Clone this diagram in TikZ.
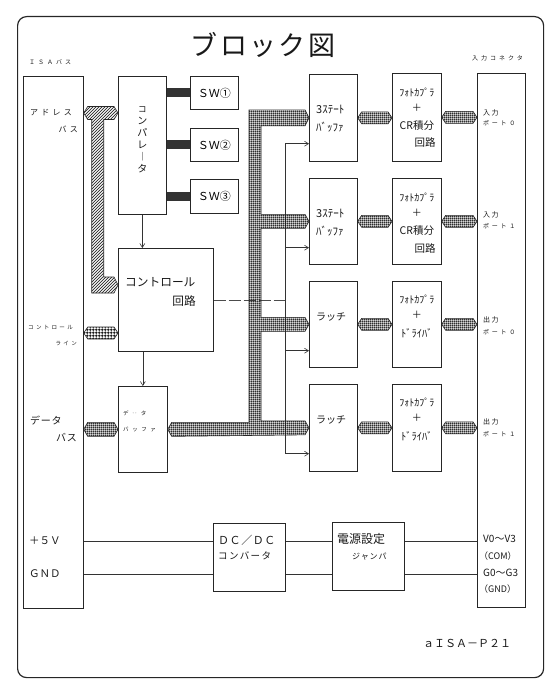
\documentclass[tikz,border=0pt]{standalone}
\usepackage{fontspec}
\setmainfont{Noto Sans CJK JP}
\usetikzlibrary{calc,patterns,arrows.meta}
\pgfdeclarepatternformonly{finegrid}{\pgfqpoint{0pt}{0pt}}{\pgfqpoint{2.2pt}{2.2pt}}{\pgfqpoint{2.2pt}{2.2pt}}{%
  \pgfsetlinewidth{0.9pt}%
  \pgfpathmoveto{\pgfqpoint{0pt}{1.1pt}}\pgfpathlineto{\pgfqpoint{2.2pt}{1.1pt}}%
  \pgfpathmoveto{\pgfqpoint{1.1pt}{0pt}}\pgfpathlineto{\pgfqpoint{1.1pt}{2.2pt}}%
  \pgfusepath{stroke}}
\pgfdeclarepatternformonly{coarsegrid}{\pgfqpoint{0pt}{0pt}}{\pgfqpoint{3.2pt}{3.2pt}}{\pgfqpoint{3.2pt}{3.2pt}}{%
  \pgfsetlinewidth{1pt}%
  \pgfpathmoveto{\pgfqpoint{0pt}{1.6pt}}\pgfpathlineto{\pgfqpoint{3.2pt}{1.6pt}}%
  \pgfpathmoveto{\pgfqpoint{1.6pt}{0pt}}\pgfpathlineto{\pgfqpoint{1.6pt}{3.2pt}}%
  \pgfusepath{stroke}}
\pgfdeclarepatternformonly{hatch}{\pgfqpoint{-1pt}{-1pt}}{\pgfqpoint{4pt}{4pt}}{\pgfqpoint{3pt}{3pt}}{%
  \pgfsetlinewidth{0.7pt}%
  \pgfpathmoveto{\pgfqpoint{0pt}{0pt}}\pgfpathlineto{\pgfqpoint{3.1pt}{3.1pt}}%
  \pgfusepath{stroke}}
\newcommand\fsz[1]{\fontsize{#1}{#1}\selectfont}
\newcommand\fls[2]{\fontsize{#1}{#1}\selectfont\addfontfeature{LetterSpace=#2}}
\newcommand\hbus[4]{%
  \draw[#1] let \p1=#2, \p2=#3 in (\x1,\y1) -- (\x1+4pt,\y1+#4) -- (\x2-4pt,\y1+#4) -- (\x2,\y1)
    -- (\x2-4pt,\y1-#4) -- (\x1+4pt,\y1-#4) -- cycle;}
\tikzset{
  box/.style={draw=black!85, line width=0.7pt, fill=white, inner sep=0pt, anchor=north west},
  frame/.style={draw=black!85, line width=1.2pt, rounded corners=9pt, inner sep=0pt, anchor=north west},
  txt/.style={inner sep=0pt, text=black!90},
  databus/.style={draw=black!85, line width=0.6pt, pattern=finegrid, pattern color=black!90},
  ctlbus/.style={draw=black!85, line width=0.6pt, pattern=coarsegrid, pattern color=black},
  addrbus/.style={draw=black!85, line width=0.6pt, pattern=hatch, pattern color=black!85},
  swbar/.style={draw=black!80, line width=9pt},
  wire/.style={draw=black!80, line width=0.6pt},
  sigline/.style={draw=black!80, line width=0.6pt, >={Straight Barb[length=4pt,width=5pt]}},
  dashline/.style={draw=black!70, line width=0.6pt, dash pattern=on 12pt off 3pt}
}
\begin{document}
\begin{tikzpicture}[x=1pt,y=-1pt]
\useasboundingbox (0,0) rectangle (559,695);
\node[frame, minimum width=526pt, minimum height=661pt] (frame) at (17,16) {};
\node[txt, font=\fls{27}{9}] (title) at (263,45) {ブロック図};
\node[txt, font=\fls{6}{50}, anchor=west] (isalbl) at (29,62) {ＩＳＡバス};
\node[txt, font=\fls{6}{50}, anchor=west] (connlbl) at (472,58) {入力コネクタ};

% boxes
\node[box, minimum width=60pt, minimum height=532pt] (isa) at (23,76) {};
\node[box, minimum width=48pt, minimum height=138pt] (comp) at (118,76) {};
\node[box, minimum width=48pt, minimum height=33pt, font=\fsz{11}] (sw1) at (190,76) {ＳＷ①};
\node[box, minimum width=48pt, minimum height=33pt, font=\fsz{11}] (sw2) at (190,128) {ＳＷ②};
\node[box, minimum width=48pt, minimum height=34pt, font=\fsz{11}] (sw3) at (190,179) {ＳＷ③};
\node[box, minimum width=95pt, minimum height=103pt] (ctrl) at (118,248) {};
\node[box, minimum width=49pt, minimum height=86pt] (dbuf) at (118,386) {};
\node[box, minimum width=48pt, minimum height=87pt] (tsb1) at (309,74) {};
\node[box, minimum width=48pt, minimum height=86pt] (tsb2) at (309,178) {};
\node[box, minimum width=48pt, minimum height=86pt] (lat1) at (309,281) {};
\node[box, minimum width=48pt, minimum height=87pt] (lat2) at (309,384) {};
\node[box, minimum width=49pt, minimum height=88pt] (pc1) at (392,73) {};
\node[box, minimum width=49pt, minimum height=86pt] (pc2) at (392,178) {};
\node[box, minimum width=49pt, minimum height=86pt] (pc3) at (392,281) {};
\node[box, minimum width=49pt, minimum height=87pt] (pc4) at (392,384) {};
\node[box, minimum width=48pt, minimum height=534pt] (conn) at (477,73) {};
\node[box, minimum width=72pt, minimum height=68pt] (dcdc) at (213,523) {};
\node[box, minimum width=72pt, minimum height=68pt] (jmp) at (332,522) {};

% helper coordinates
\coordinate (trunk) at (255,0);
\coordinate (sig) at (285,0);
\coordinate (aY) at (0,113);
\coordinate (aY2) at (0,285);
\coordinate (cY) at (0,333);
\coordinate (v5) at (0,541);
\coordinate (gd) at (0,574);
\coordinate (a1) at ([yshift=18pt]tsb1.south west);
\coordinate (a2) at ([yshift=17pt]tsb2.south west);
\coordinate (a3) at ([yshift=17pt]lat1.south west);
\coordinate (a4) at ([yshift=18pt]lat2.south west);

% control signals
\draw[dashline] (ctrl.east) -- (ctrl.east -| sig);
\draw[sigline] (a1 -| sig) -- (a4 -| sig);
\foreach \i in {1,...,4} \draw[sigline,->] (a\i -| sig) -- (a\i);
\draw[sigline,->] (comp.south) -- (comp.south |- ctrl.north);
\draw[sigline,->] (dbuf.north |- ctrl.south) -- (dbuf.north);

% SW bars
\foreach \s in {sw1,sw2,sw3} \draw[swbar] (\s.west -| comp.east) -- (\s.west);

% address bus
\draw[addrbus] let \p1=(isa.east |- aY), \p2=(comp.west |- aY), \p3=(ctrl.west |- aY2) in
  (\x1,\y1) -- (\x1+4pt,\y1+6.5pt) -- (\x2-4pt,\y1+6.5pt) -- (\x2,\y1) -- (\x2-4pt,\y1-6.5pt)
  -- (\x1+20pt,\y1-6.5pt) -- (\x1+20pt,\y3+8pt) -- (\x3-4pt,\y3+8pt) -- (\x3,\y3) -- (\x3-4pt,\y3-8pt)
  -- (\x1+8pt,\y3-8pt) -- (\x1+8pt,\y1-6.5pt) -- (\x1+4pt,\y1-6.5pt) -- cycle;

% control line bus
\hbus{ctlbus}{(isa.east |- cY)}{(ctrl.west |- cY)}{6pt}
% data bus
\hbus{databus}{(isa.east |- dbuf.west)}{(dbuf.west)}{7pt}

% internal data trunk
\draw[databus] let \p1=(dbuf.east), \p2=(tsb1.west), \p3=(tsb2.west), \p4=(lat1.west), \p5=(lat2.west), \p6=(trunk) in
  (\x1,\y1) -- (\x1+4pt,\y1+7pt) -- (\x6-6pt,\y1+7pt) -- (\x6-6pt,\y2+8pt) -- (\x2-4pt,\y2+8pt) -- (\x2,\y2)
  -- (\x2-4pt,\y2-8pt) -- (\x6+6pt,\y2-8pt) -- (\x6+6pt,\y3+7pt) -- (\x3-4pt,\y3+7pt) -- (\x3,\y3)
  -- (\x3-4pt,\y3-7pt) -- (\x6+6pt,\y3-7pt) -- (\x6+6pt,\y4+7pt) -- (\x4-4pt,\y4+7pt) -- (\x4,\y4)
  -- (\x4-4pt,\y4-7pt) -- (\x6+6pt,\y4-7pt) -- (\x6+6pt,\y5+7pt) -- (\x5-4pt,\y5+7pt) -- (\x5,\y5)
  -- (\x5-4pt,\y5-7pt) -- (\x1+4pt,\y1-7pt) -- cycle;

% small buses
\foreach \a/\b in {tsb1/pc1,tsb2/pc2,lat1/pc3,lat2/pc4} {
  \hbus{databus}{(\a.east)}{(\b.west)}{6pt}
  \hbus{databus}{(\b.east)}{(\b.east -| conn.west)}{6pt}
}

% power wires
\foreach \c in {v5,gd} {
  \draw[wire] (isa.east |- \c) -- (dcdc.west |- \c);
  \draw[wire] (dcdc.east |- \c) -- (jmp.west |- \c);
  \draw[wire] (jmp.east |- \c) -- (conn.west |- \c);
}

% ISA labels
\node[txt, font=\fls{8}{40}, anchor=west] (l1) at (30,113) {アドレス};
\node[txt, font=\fls{8}{40}, anchor=east] (l2) at (78,129) {バス};
\node[txt, font=\fls{5.5}{42}, anchor=west] (l3) at (28,327) {コントロール};
\node[txt, font=\fls{5.5}{42}, anchor=east] (l4) at (77,343) {ライン};
\node[txt, font=\fls{10}{7}, anchor=west] (l5) at (30,421) {データ};
\node[txt, font=\fls{10}{7}, anchor=east] (l6) at (77,438) {バス};
\node[txt, font=\fsz{10.5}, anchor=west] (l7) at (29,541) {＋５Ｖ};
\node[txt, font=\fsz{10.5}, anchor=west] (l8) at (29,574) {ＧＮＤ};

% comparator text
\node[txt, align=center] (ct) at (comp.center |- 0,140) {\fontsize{8.5}{13.3}\selectfont コ\\ン\\パ\\レ\\︱\\タ};

% control circuit text
\node[txt, font=\fsz{11.7}, anchor=west] (cc1) at (125,282) {コントロール};
\node[txt, font=\fsz{11.7}, anchor=east] (cc2) at (196,301) {回路};

% data buffer text
\node[txt, font=\fls{5.5}{60}, anchor=west] (db1) at (123,413) {デ‥タ};
\node[txt, font=\fls{5.5}{65}, anchor=west] (db2) at (123,429) {バッファ};

% 3-state buffers and latches
\foreach \b in {tsb1,tsb2} {
  \node[txt, font=\fsz{11}, anchor=west] at ([xshift=7pt,yshift=-36pt]\b.north west) {3ｽﾃｰﾄ};
  \node[txt, font=\fsz{11}, anchor=west] at ([xshift=7pt,yshift=-53pt]\b.north west) {ﾊﾞｯﾌｧ};
}
\foreach \b in {lat1,lat2}
  \node[txt, font=\fsz{10}, anchor=west] at ([xshift=7pt,yshift=-36pt]\b.north west) {ラッチ};

% photocoupler texts
\foreach \b in {pc1,pc2} {
  \node[txt, font=\fsz{10}] at ([yshift=-19pt]\b.north) {ﾌｫﾄｶﾌﾟﾗ};
  \node[txt, font=\fsz{10}] at ([yshift=-35pt]\b.north) {＋};
  \node[txt, font=\fsz{10.5}] at ([yshift=-53pt]\b.north) {CR積分};
  \node[txt, font=\fsz{10.5}, anchor=east] at ([xshift=-6pt,yshift=-70pt]\b.north east) {回路};
}
\foreach \b in {pc3,pc4} {
  \node[txt, font=\fsz{10}] at ([yshift=-18pt]\b.north) {ﾌｫﾄｶﾌﾟﾗ};
  \node[txt, font=\fsz{10}] at ([yshift=-34pt]\b.north) {＋};
  \node[txt, font=\fsz{10.5}] at ([yshift=-52pt]\b.north) {ﾄﾞﾗｲﾊﾞ};
}

% connector texts
\foreach \y/\t in {113/入力,215/入力,320/出力,422/出力}
  \node[txt, font=\fls{7}{20}, anchor=west] at (483,\y) {\t};
\foreach \y/\t in {123/ポート０,226/ポート１,332/ポート０,434/ポート１}
  \node[txt, font=\fls{6}{45}, anchor=west] at (483,\y) {\t};
\node[txt, font=\fsz{10}, anchor=west] (cv1) at (483,539) {V0～V3};
\node[txt, font=\fsz{9}, anchor=west] (cv2) at (479,556) {（COM）};
\node[txt, font=\fsz{10}, anchor=west] (cv3) at (483,573) {G0～G3};
\node[txt, font=\fsz{9}, anchor=west] (cv4) at (479,589) {（GND）};

% power boxes text
\node[txt, font=\fls{11}{5}, anchor=west] (dc1) at (218,540) {ＤＣ／ＤＣ};
\node[txt, font=\fls{9.5}{14}, anchor=west] (dc2) at (218,556) {コンバータ};
\node[txt, font=\fsz{12}, anchor=west] (jp1) at (337,539) {電源設定};
\node[txt, font=\fls{8}{12}, anchor=west] (jp2) at (352,557) {ジャンパ};

\node[txt, font=\fsz{11}, anchor=west] (model) at (423,643) {ａＩＳＡ－Ｐ２１};
\end{tikzpicture}
\end{document}
